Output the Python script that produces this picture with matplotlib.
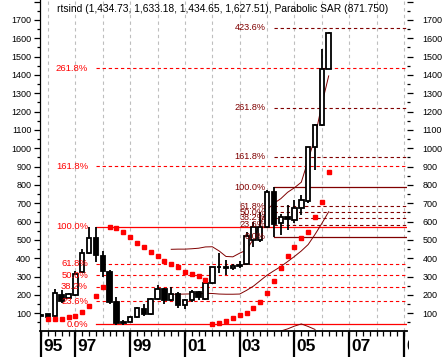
import numpy as np
import pandas as pd
import matplotlib
matplotlib.use("Agg")
import matplotlib.pyplot as plt
from matplotlib.patches import Rectangle
from matplotlib.transforms import Bbox, TransformedBbox, blended_transform_factory

plt.rcParams["font.family"] = ["Liberation Sans", "DejaVu Sans"]

# ---- data (quarterly candles) ----------------------------------------------
quarters = pd.period_range("1995Q4", "2006Q2", freq="Q")
opens  = [92, 96, 85, 200, 185, 200, 325, 430, 510, 415, 325, 160, 45, 55, 82,
          125, 95, 180, 235, 170, 205, 143, 170, 215, 180, 265, 350, 355, 345,
          360, 370, 500, 500, 571, 760, 593, 625, 609, 675, 712, 1009, 1127,
          1434.73]
highs  = [95, 98, 232, 227, 210, 330, 450, 572, 570, 440, 335, 190, 62, 85, 135,
          150, 185, 255, 240, 245, 215, 180, 225, 220, 270, 355, 430, 390, 370,
          385, 545, 600, 655, 770, 787, 640, 690, 718, 745, 1009, 1130, 1540,
          1633.18]
lows   = [85, 78, 80, 156, 180, 195, 320, 425, 380, 300, 150, 38, 38, 50, 75,
          85, 90, 175, 150, 165, 130, 125, 160, 175, 175, 260, 320, 310, 335,
          345, 365, 460, 490, 565, 518, 527, 555, 590, 636, 700, 882, 1120,
          1434.65]
closes = [87, 80, 209, 167, 205, 315, 430, 510, 418, 330, 160, 45, 55, 80, 130,
          95, 180, 235, 170, 205, 145, 170, 215, 190, 265, 352, 355, 345, 360,
          362, 520, 570, 570, 760, 585, 625, 612, 675, 718, 1009, 1127, 1434,
          1627.51]

# Parabolic SAR, one dot per quarter
sar = [np.nan, 69, 69, 69, 78, 85, 109, 141, 194, 245,
       572, 567, 542, 515, 485, 460, 433, 413, 387, 369, 351, 327, 312, 303, 282,
       40, 49, 60, 73, 91, 103, 127, 163, 212, 276, 346, 413, 464, 509, 545,
       624, 709, 872]

# envelope bands (dark red thin lines)
nan = np.nan
band_upper = [nan] * 19 + [449, 450, 450, 452, 455, 462, 463, 440, 410, 408, 428,
                           445, 505, 590, 665, 700, 725, 760, 785, 815, 935,
                           1060, 1240, 1395]
band_lower = [nan] * 19 + [204, 204, 205, 206, 207, 209, 208, 205, 204, 204, 205,
                           225, 248, 278, 308, 332, 355, 382, 410, 440, 475,
                           530, 590, 654]
bottom_line = [nan] * 35 + [3, 15, 30, 42, 28, 12, nan, nan]

# fibonacci levels
red_pct = ["0.0%", "23.6%", "38.2%", "50.0%", "61.8%", "100.0%", "161.8%", "261.8%"]
red_lvl = [40, 166, 245, 307, 369, 573, 903, 1436]
dark_pct = ["0.0%", "23.6%", "38.2%", "50.0%", "61.8%", "100.0%", "161.8%",
            "261.8%", "423.6%"]
dark_lvl = [518, 582, 621, 652, 684, 787, 953, 1222, 1657]

title = ("rtsind (1,434.73, 1,633.18, 1,434.65, 1,627.51), "
         "Parabolic SAR (871.750)")

# ---- style -------------------------------------------------------------------
RED = "#FF0000"
MAROON = "#800000"
GRID = "#BEBEBE"

W, H = 445, 357
fig = plt.figure(figsize=(W / 100, H / 100), dpi=100, facecolor="white")
ax = fig.add_axes([40 / W, (H - 331) / H, (407 - 40) / W, 331 / H])
ax.set_xlim(-0.17, 53.44)
ax.set_ylim(3.4, 1809)

x = np.arange(len(quarters))
full_q = pd.period_range(quarters[0], "2009Q2", freq="Q")

# yearly grid at first quarter of each year
for p, q in enumerate(full_q):
    if q.quarter == 1:
        ax.axvline(p, color=GRID, lw=0.8, ls=(0, (3, 3)), zorder=0)

# fibonacci from 1997 high / 1998 low
red_start = 8
for lbl, v in zip(red_pct, red_lvl):
    solid = lbl in ("0.0%", "100.0%")
    ax.plot([red_start, 53.44], [v, v], color=RED, lw=0.9 if solid else 0.8,
            ls="-" if solid else (0, (3, 2.5)), zorder=2)
    ax.text(6.85, v, lbl, color=RED, fontsize=6.8, ha="right", va="center", zorder=6)

# fibonacci from 2004Q2 range (labels crowd together, as in the original)
dark_start = 34
for lbl, v in zip(dark_pct, dark_lvl):
    solid = lbl in ("0.0%", "100.0%")
    ax.plot([dark_start, 53.44], [v, v], color=MAROON, lw=0.9 if solid else 0.8,
            ls="-" if solid else (0, (3, 2.5)), zorder=2)
    ax.text(32.75, v, lbl, color=MAROON, fontsize=6.6, ha="right", va="center",
            zorder=6)

ax.plot(x, band_upper, color=MAROON, lw=0.7, zorder=2)
ax.plot(x, band_lower, color=MAROON, lw=0.7, zorder=2)
ax.plot(x, bottom_line, color=MAROON, lw=0.7, zorder=2)

# candles
for i, (o, h, l, c) in enumerate(zip(opens, highs, lows, closes)):
    ax.vlines(i, l, h, color="black", lw=1.3, zorder=3)
    face = "white" if c >= o else "black"
    ax.add_patch(Rectangle((i - 0.33, min(o, c)), 0.66, max(abs(c - o), 3),
                           fc=face, ec="black", lw=1.3, zorder=4))

ax.plot(x, sar, "s", ms=2.7, color=RED, mec=RED, zorder=5)

# ---- axes --------------------------------------------------------------------
for s in ("top", "right"):
    ax.spines[s].set_visible(False)
ax.spines["left"].set_linewidth(0.9)
ax.spines["bottom"].set_linewidth(1.3)

ax.set_yticks(range(100, 1801, 100))
ax.set_yticklabels([str(v) if v <= 1700 else "" for v in range(100, 1801, 100)])
ax.set_yticks(range(50, 1801, 100), minor=True)
ax.yaxis.set_ticks_position("both")
ax.tick_params(axis="y", which="major", length=4.3, width=0.9, labelsize=6.5,
               labelright=True, pad=2)
ax.tick_params(axis="y", which="minor", length=2.2, width=0.9)

ax.set_xticks([])
ax.set_xticks(range(0, 54), minor=True)
ax.tick_params(axis="x", which="minor", length=3.8, width=0.9)

# right-hand labels need a wider pad
for t in ax.yaxis.get_major_ticks():
    t.label2.set_transform(t.label2.get_transform()
                           + matplotlib.transforms.ScaledTranslation(5 / 72, 0,
                                                                     fig.dpi_scale_trans))

# year labels with long ticks
blend = blended_transform_factory(ax.transData, ax.transAxes)
year_pos = ["1995Q4", "1997Q1", "1999Q1", "2001Q1", "2003Q1", "2005Q1",
            "2007Q1", "2009Q1"]
year_lbl = ["95", "97", "99", "01", "03", "05", "07", "09"]
clip = TransformedBbox(Bbox([[0, 0], [409 / W, 1]]), fig.transFigure)
for q, lbl in zip(year_pos, year_lbl):
    p = full_q.get_loc(pd.Period(q, freq="Q"))
    ax.plot([p, p], [-0.006, -0.08], color="black", lw=1.6, transform=blend,
            clip_on=False)
    t = ax.text(p + 0.3, -0.046, lbl, transform=blend, fontsize=12.5,
                fontweight="bold", ha="left", va="center")
    t.set_clip_box(clip)
    t.set_clip_on(True)

fig.text(57 / W, 1 - 9 / H, title, fontsize=7.4, ha="left", va="center")

fig.savefig("out.png", dpi=100, facecolor="white")
